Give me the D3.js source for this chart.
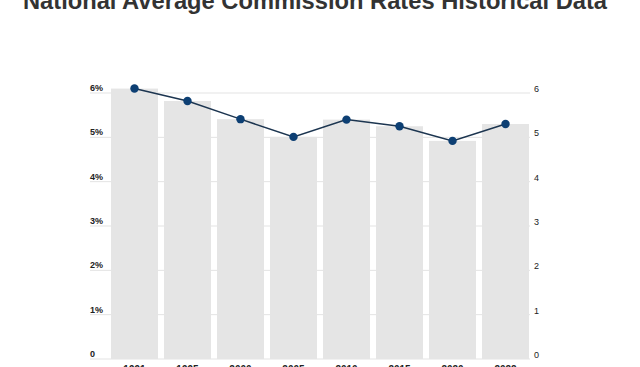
<!DOCTYPE html>
<html><head><meta charset="utf-8">
<script src="https://cdn.jsdelivr.net/npm/d3@7"></script>
<style>body{margin:0;background:#fff}svg{display:block}</style>
</head><body>
<script>
const years = ["1991","1995","2000","2005","2010","2015","2020","2022"];
const barValues = [6.1, 5.82, 5.41, 5.01, 5.4, 5.25, 4.92, 5.3];
const lineValues = [6.1, 5.82, 5.41, 5.01, 5.4, 5.25, 4.92, 5.3];
const leftTicks = [0,1,2,3,4,5,6];
const leftTickLabels = ["0","1%","2%","3%","4%","5%","6%"];
const rightTickLabels = ["0","1","2","3","4","5","6"];
const title = "National Average Commission Rates Historical Data";

const W = 640, H = 367;
const svg = d3.select("body").append("svg").attr("width", W).attr("height", H);

const x = d3.scaleBand().domain(years).range([108, 532]).paddingInner(0.113).paddingOuter(0.056);
const y = d3.scaleLinear().domain([0, 6]).range([359, 93]);

// gridlines
svg.append("g").selectAll("line").data(leftTicks).join("line")
  .attr("x1", 90).attr("x2", 530)
  .attr("y1", d => y(d)).attr("y2", d => y(d))
  .attr("stroke", "#e3e3e3").attr("stroke-width", 1);

// bars
svg.append("g").selectAll("rect").data(barValues).join("rect")
  .attr("x", (d, i) => x(years[i]))
  .attr("width", x.bandwidth())
  .attr("y", d => y(d))
  .attr("height", d => y(0) - y(d))
  .attr("fill", "#e5e5e5");

// left labels
svg.append("g").selectAll("text").data(leftTicks).join("text")
  .attr("x", 90).attr("y", d => y(d) - 2)
  .attr("font-family", "Liberation Sans, Arial, sans-serif")
  .attr("font-size", 9).attr("font-weight", "bold").attr("fill", "#222")
  .text((d, i) => leftTickLabels[i]);

// right labels
svg.append("g").selectAll("text").data(leftTicks).join("text")
  .attr("x", 534).attr("y", d => y(d) - 1)
  .attr("font-family", "Liberation Sans, Arial, sans-serif")
  .attr("font-size", 9).attr("fill", "#222")
  .text((d, i) => rightTickLabels[i]);

// line
const cx = (d, i) => x(years[i]) + x.bandwidth() / 2;
svg.append("path").datum(lineValues)
  .attr("d", d3.line().x(cx).y(d => y(d)))
  .attr("fill", "none").attr("stroke", "#1c3550").attr("stroke-width", 1.5);
svg.append("g").selectAll("circle").data(lineValues).join("circle")
  .attr("cx", cx).attr("cy", d => y(d)).attr("r", 4.2)
  .attr("fill", "#0d3f73");

// x labels
svg.append("g").selectAll("text").data(years).join("text")
  .attr("x", d => x(d) + x.bandwidth() / 2).attr("y", 373)
  .attr("text-anchor", "middle")
  .attr("font-family", "Liberation Sans, Arial, sans-serif")
  .attr("font-size", 10).attr("font-weight", "bold").attr("fill", "#222")
  .text(d => d);

// title
svg.append("text").attr("x", 315).attr("y", 8.5)
  .attr("text-anchor", "middle")
  .attr("font-family", "Liberation Sans, Arial, sans-serif")
  .attr("font-size", 23.7).attr("font-weight", "bold").attr("fill", "#333")
  .text(title);
</script>
</body></html>
